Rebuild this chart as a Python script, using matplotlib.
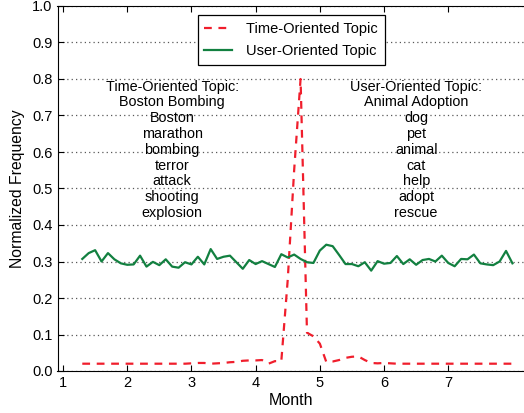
import numpy as np
import matplotlib
matplotlib.use("Agg")
import matplotlib.pyplot as plt

# =========================
# DATA
# =========================
months = [round(1.3 + 0.1 * i, 1) for i in range(68)]  # 1.3 ... 8.0

time_topic = [
    0.020, 0.020, 0.020, 0.020, 0.020, 0.020, 0.020, 0.020, 0.020, 0.020,  # 1.3-2.2
    0.020, 0.020, 0.020, 0.020, 0.020, 0.020, 0.020,                       # 2.3-2.9
    0.021, 0.022, 0.022, 0.020, 0.021, 0.022, 0.024, 0.025, 0.028, 0.029,  # 3.0-3.9
    0.029, 0.030, 0.020, 0.027, 0.027, 0.250, 0.550, 0.800, 0.105, 0.095,  # 4.0-4.9
    0.075, 0.025, 0.026, 0.030, 0.036, 0.039, 0.040, 0.030, 0.022, 0.021,  # 5.0-5.9
    0.022, 0.021, 0.020, 0.020, 0.020, 0.020, 0.020, 0.020, 0.020, 0.020,  # 6.0-6.9
    0.020, 0.020, 0.020, 0.020, 0.020, 0.020, 0.020, 0.020, 0.020, 0.020,  # 7.0-7.9
    0.020,                                                                 # 8.0
]

user_topic = [
    0.307, 0.323, 0.331, 0.300, 0.323, 0.306, 0.295, 0.291, 0.292, 0.316,  # 1.3-2.2
    0.286, 0.299, 0.290, 0.306, 0.286, 0.283, 0.298,                       # 2.3-2.9
    0.292, 0.313, 0.292, 0.334, 0.307, 0.313, 0.316, 0.298, 0.280, 0.304,  # 3.0-3.9
    0.293, 0.301, 0.293, 0.285, 0.320, 0.311, 0.319, 0.307, 0.298, 0.296,  # 4.0-4.9
    0.330, 0.346, 0.342, 0.318, 0.293, 0.293, 0.287, 0.298, 0.275, 0.301,  # 5.0-5.9
    0.294, 0.296, 0.315, 0.293, 0.306, 0.291, 0.304, 0.307, 0.300, 0.316,  # 6.0-6.9
    0.296, 0.287, 0.307, 0.306, 0.319, 0.295, 0.292, 0.290, 0.300, 0.329,  # 7.0-7.9
    0.295,                                                                 # 8.0
]

xticks = [1, 2, 3, 4, 5, 6, 7]
yticks = [0.0, 0.1, 0.2, 0.3, 0.4, 0.5, 0.6, 0.7, 0.8, 0.9, 1.0]

time_words = ["Time-Oriented Topic:", "Boston Bombing", "Boston", "marathon",
              "bombing", "terror", "attack", "shooting", "explosion"]
user_words = ["User-Oriented Topic:", "Animal Adoption", "dog", "pet",
              "animal", "cat", "help", "adopt", "rescue"]

RED = "#f01e2c"
GREEN = "#128040"

# =========================
# PLOT
# =========================
plt.rcParams["font.family"] = ["Liberation Sans", "DejaVu Sans"]
plt.rcParams["font.size"] = 10

fig = plt.figure(figsize=(5.24, 4.13), dpi=100)
ax = fig.add_axes([57.5 / 524, 42 / 413, (524 - 57.5) / 524, 365 / 413])

ax.plot(months, time_topic, color=RED, lw=1.6, dashes=(3.5, 3),
        label="Time-Oriented Topic")
ax.plot(months, user_topic, color=GREEN, lw=1.6, label="User-Oriented Topic")

ax.set_xlim(0.914, 8.18)
ax.set_ylim(0, 1)
ax.set_xticks(xticks)
ax.set_yticks(yticks)
ax.set_yticklabels([f"{v:.1f}" for v in yticks])
ax.tick_params(direction="in", top=True, right=False, length=4,
               labelsize=10.5, width=0.8)
ax.spines["right"].set_visible(False)

ax.yaxis.grid(True, linestyle=(0, (1, 2.5)), color="0.35", lw=0.9)
ax.set_axisbelow(True)

ax.set_xlabel("Month", fontsize=11.5, labelpad=2.5)
ax.set_ylabel("Normalized Frequency", fontsize=11.3, labelpad=5)

# kelime listeleri
ax.text(2.70, 0.798, "\n".join(time_words), ha="center", va="top",
        fontsize=10.4, linespacing=1.16)
ax.text(6.50, 0.798, "\n".join(user_words), ha="center", va="top",
        fontsize=10.4, linespacing=1.16)

leg = ax.legend(loc="upper center", bbox_to_anchor=(0.501, 0.994),
                fancybox=False, edgecolor="black", framealpha=1,
                fontsize=10.5, handlelength=1.9, borderpad=0.45,
                labelspacing=0.55, handletextpad=1.0)
leg.get_frame().set_linewidth(0.9)

fig.savefig("out.png", dpi=100)
